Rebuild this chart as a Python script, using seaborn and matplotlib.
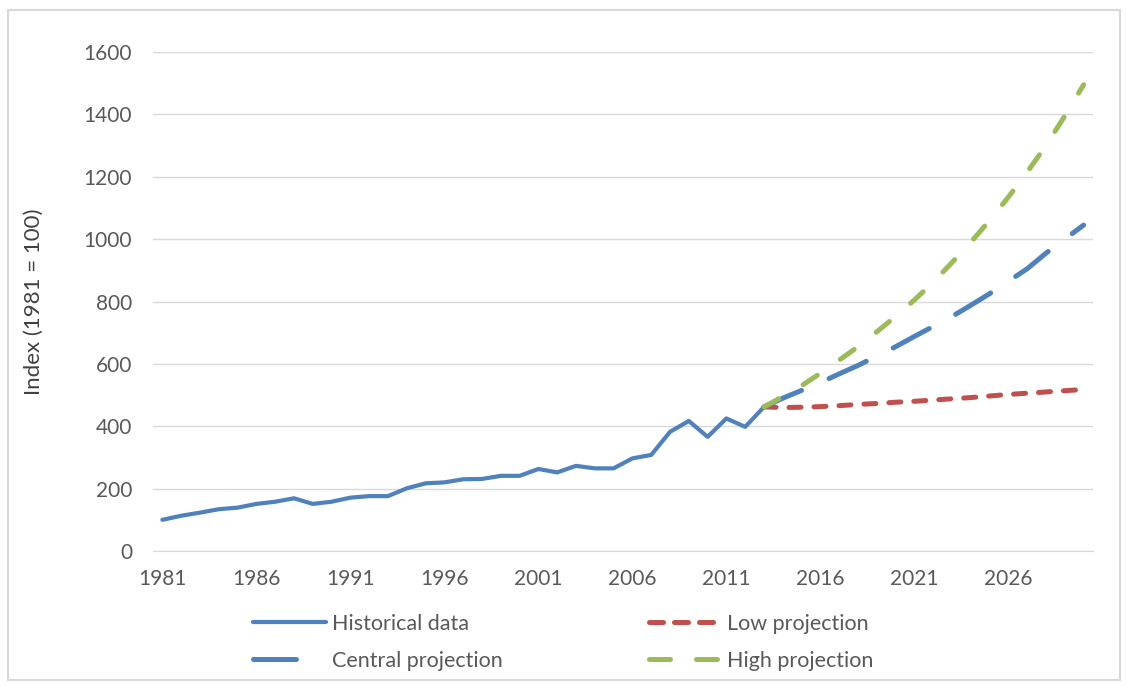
import numpy as np
import pandas as pd
import matplotlib
matplotlib.use('Agg')
import matplotlib.pyplot as plt
import seaborn as sns
from matplotlib.lines import Line2D
from matplotlib.patches import Rectangle

# podaci ocitani sa slike
hist_years = list(range(1981, 2014))
hist_vals = [100, 113, 123, 134, 139, 151, 158, 169, 151, 158, 171, 176, 176,
             201, 217, 220, 230, 231, 241, 241, 263, 252, 273, 265, 265, 297,
             308, 382, 417, 366, 425, 398, 462]

proj_years = list(range(2013, 2031))
low_vals = [462, 460, 461, 463, 466, 470, 473, 477, 480, 484, 488, 492, 497,
            502, 506, 510, 514, 518]
central_vals = [462, 490, 515, 540, 568, 595, 625, 655, 688, 720, 752, 788,
                825, 865, 905, 955, 1000, 1045]
high_vals = [462, 495, 530, 570, 612, 655, 703, 752, 805, 862, 925, 990,
             1060, 1135, 1215, 1300, 1395, 1495]

series_names = ['Historical data', 'Central projection', 'Low projection', 'High projection']
colors = {'Historical data': '#4F81BD', 'Central projection': '#4F81BD',
          'Low projection': '#C0504D', 'High projection': '#9BBB59'}
dash_map = {'Historical data': None, 'Central projection': (8.2, 6),
            'Low projection': (2.4, 2.6), 'High projection': (3.4, 5.6)}
# u legendi su crtice malo drugacije (kao u Excelu)
leg_dash_map = {'Historical data': None, 'Central projection': (8.6, 20),
                'Low projection': (2.8, 2.2), 'High projection': (4.2, 5.2)}
widths = {'Historical data': 3.0, 'Central projection': 3.6,
          'Low projection': 3.6, 'High projection': 3.6}

df = pd.concat([
    pd.DataFrame({'year': hist_years, 'value': hist_vals, 'series': 'Historical data'}),
    pd.DataFrame({'year': proj_years, 'value': low_vals, 'series': 'Low projection'}),
    pd.DataFrame({'year': proj_years, 'value': central_vals, 'series': 'Central projection'}),
    pd.DataFrame({'year': proj_years, 'value': high_vals, 'series': 'High projection'}),
])

sns.set_style('white')
plt.rcParams['font.family'] = ['Lato', 'DejaVu Sans']

fig = plt.figure(figsize=(11.27, 6.86), dpi=100)
ax = fig.add_axes([153/1127, 1 - 551/686, (1093-153)/1127, (551-52)/686])

handles = {}
for name in ['Historical data', 'Low projection', 'Central projection', 'High projection']:
    sub = df[df['series'] == name]
    sns.lineplot(data=sub, x='year', y='value', ax=ax, color=colors[name],
                 linewidth=widths[name], legend=False)
    ln = ax.lines[-1]
    if dash_map[name] is not None:
        ln.set_dashes(dash_map[name])
        ln.set_dash_capstyle('round')
    ln.set_solid_capstyle('round')
    h = Line2D([], [], color=colors[name], linewidth=widths[name])
    if leg_dash_map[name] is not None:
        h.set_dashes(leg_dash_map[name])
        h.set_dash_capstyle('round')
    h.set_solid_capstyle('round')
    handles[name] = h

ax.set_xlim(1980.5, 2030.5)
ax.set_ylim(0, 1600)
ax.set_xticks(range(1981, 2030, 5))
ax.set_yticks(range(0, 1601, 200))
ax.grid(axis='y', color='#d9d9d9', linewidth=1)
ax.set_axisbelow(True)
for s in ['top', 'right', 'left']:
    ax.spines[s].set_visible(False)
ax.spines['bottom'].set_color('#d9d9d9')
ax.tick_params(axis='both', length=0, labelsize=15, labelcolor='#595959')
ax.tick_params(axis='x', pad=13)
ax.tick_params(axis='y', pad=15)
ax.set_xlabel('')
ax.set_ylabel('Index (1981 = 100)', fontsize=16, color='#404040')
ax.yaxis.set_label_coords(44/1127, 1 - 302/686, transform=fig.transFigure)

leg = fig.legend([handles[n] for n in series_names], series_names,
                 loc='upper left', bbox_to_anchor=(253/1127, 1 - 614/686),
                 ncol=2, frameon=False, fontsize=15.5, handlelength=3.4,
                 handletextpad=0.25, labelspacing=0.78, columnspacing=6.8,
                 borderaxespad=0, borderpad=0)
for t in leg.get_texts():
    t.set_color('#595959')

fig.patches.append(Rectangle((8/1127, 6/686), 1112/1127, 670/686,
                             transform=fig.transFigure, fill=False,
                             edgecolor='#d9d9d9', linewidth=1.5))

fig.savefig('out.png', dpi=100)
